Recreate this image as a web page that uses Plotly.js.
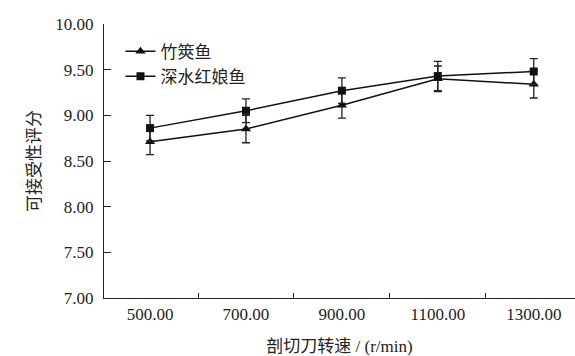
<!DOCTYPE html>
<html>
<head>
<meta charset="utf-8">
<script src="https://cdn.plot.ly/plotly-3.0.1.min.js"></script>
<style>html,body{margin:0;padding:0;background:#fff;}#chart{width:575px;height:356px;}</style>
</head>
<body>
<div id="chart"></div>
<script>
const categories = ["500.00", "700.00", "900.00", "1100.00", "1300.00"];
const seriesNames = ["竹筴鱼", "深水红娘鱼"];
const jackMackerel = [8.71, 8.85, 9.11, 9.40, 9.34];
const jackMackerelErr = [0.14, 0.15, 0.14, 0.14, 0.15];
const redGurnard = [8.86, 9.05, 9.27, 9.43, 9.48];
const redGurnardErr = [0.14, 0.13, 0.14, 0.16, 0.14];
const yTicks = [7.0, 7.5, 8.0, 8.5, 9.0, 9.5, 10.0];

const FONT = "'Liberation Serif', 'Times New Roman', 'Noto Sans CJK SC', serif";

function makeTrace(name, y, err, symbol, size) {
  return {
    x: categories, y: y, name: name, type: "scatter", mode: "lines+markers",
    line: {color: "#111", width: 1.5},
    marker: {symbol: symbol, size: size, color: "#111"},
    error_y: {type: "data", array: err, visible: true, color: "#222", thickness: 1.3, width: 4}
  };
}

const data = [
  makeTrace(seriesNames[0], jackMackerel, jackMackerelErr, "triangle-up", 9),
  makeTrace(seriesNames[1], redGurnard, redGurnardErr, "square", 8)
];

const layout = {
  width: 575, height: 356,
  margin: {l: 104, r: 0, t: 24, b: 58},
  paper_bgcolor: "#fff", plot_bgcolor: "#fff",
  font: {family: FONT, color: "#222", size: 16},
  showlegend: true,
  legend: {x: 0.035, y: 0.965, xanchor: "left", yanchor: "top", bgcolor: "rgba(0,0,0,0)",
           font: {family: FONT, size: 17, color: "#222"}, tracegroupgap: 0},
  xaxis: {
    type: "category", range: [-0.48, 4.43],
    showline: true, linecolor: "#222", linewidth: 1.2, mirror: false,
    showgrid: false, zeroline: false,
    ticks: "inside", tickson: "boundaries", ticklen: 5, tickcolor: "#222",
    tickfont: {family: FONT, size: 17, color: "#222"},
    title: {text: "剖切刀转速 / (r/min)", font: {family: FONT, size: 17, color: "#222"}, standoff: 18}
  },
  yaxis: {
    range: [7.0, 10.0], tickvals: yTicks, ticktext: yTicks.map(v => v.toFixed(2)),
    showline: true, linecolor: "#222", linewidth: 1.2,
    showgrid: false, zeroline: false,
    ticks: "inside", ticklen: 7, tickcolor: "#222", ticklabelstandoff: 6,
    tickfont: {family: FONT, size: 17, color: "#222"},
    title: {text: "可接受性评分", font: {family: FONT, size: 17, color: "#222"}, standoff: 10}
  }
};

Plotly.newPlot("chart", data, layout, {displayModeBar: false, staticPlot: true});
</script>
</body>
</html>
